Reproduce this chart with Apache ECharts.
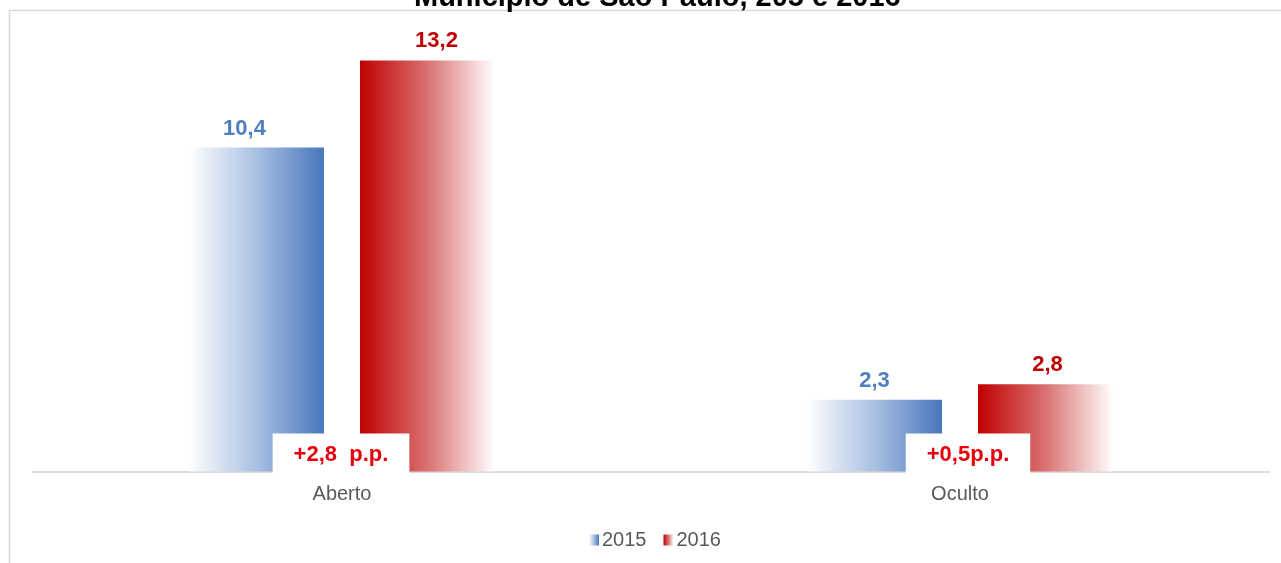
<!DOCTYPE html>
<html>
<head>
<meta charset="utf-8">
<script src="https://cdn.jsdelivr.net/npm/echarts@6/dist/echarts.min.js"></script>
<style>
  html, body { margin: 0; padding: 0; background: #ffffff; }
  #chart { width: 1281px; height: 563px; }
</style>
</head>
<body>
<div id="chart"></div>
<script>
// Desemprego aberto e oculto (%), Município de São Paulo
const categories = ['Aberto', 'Oculto'];
const seriesNames = ['2015', '2016'];
const values2015 = [10.4, 2.3];
const values2016 = [13.2, 2.8];
const diffLabels = ['+2,8  p.p.', '+0,5p.p.'];
const titleText = 'Município de São Paulo, 205 e 2016';

// horizontal nudges for labels (px)
const labelShift2015 = [-12, 0];
const labelShift2016 = [9, 2];
const noteShift = [-1, 8];

const FONT = '"Liberation Sans", Arial, Helvetica, sans-serif';
const fmt = v => v.toFixed(1).replace('.', ',');

const blueFill = new echarts.graphic.LinearGradient(0, 0, 1, 0, [
  { offset: 0, color: 'rgba(255,255,255,1)' },
  { offset: 0.5, color: '#a9c0e2' },
  { offset: 1, color: '#4876bd' }
]);
const redFill = new echarts.graphic.LinearGradient(0, 0, 1, 0, [
  { offset: 0, color: '#c00000' },
  { offset: 0.5, color: '#da7272' },
  { offset: 1, color: 'rgba(255,255,255,1)' }
]);

const chart = echarts.init(document.getElementById('chart'), null, { renderer: 'canvas' });

function barData(values, shifts) {
  return values.map((v, i) => ({ value: v, label: { offset: [shifts[i], 0] } }));
}

const valueLabel = color => ({
  show: true,
  position: 'top',
  distance: 8,
  formatter: p => fmt(p.value),
  fontFamily: FONT,
  fontSize: 22,
  fontWeight: 'bold',
  color: color
});

const option = {
  backgroundColor: '#ffffff',
  animation: false,
  title: {
    text: titleText,
    left: 409,
    top: -22,
    textStyle: { fontFamily: FONT, fontSize: 29, fontWeight: 'bold', color: '#000000' }
  },
  graphic: [{
    type: 'rect',
    shape: { x: 9.5, y: 10.5, width: 1400, height: 700 },
    style: { fill: null, stroke: '#d9d9d9', lineWidth: 1.5 },
    silent: true,
    z: -10
  }],
  legend: {
    data: seriesNames,
    bottom: 8,
    left: 584,
    icon: 'rect',
    itemWidth: 10,
    itemHeight: 11,
    itemGap: 17,
    textStyle: { fontFamily: FONT, fontSize: 20, color: '#595959', padding: [0, 0, 0, -2] }
  },
  grid: { left: 33, right: 12, top: 35.5, bottom: 91.5, containLabel: false },
  xAxis: {
    type: 'category',
    data: categories,
    axisLine: { show: true, lineStyle: { color: '#dadada', width: 2 } },
    axisTick: { show: false },
    axisLabel: { margin: 13, fontFamily: FONT, fontSize: 20, color: '#595959' }
  },
  yAxis: {
    type: 'value',
    min: 0,
    max: 14,
    show: false,
    splitLine: { show: false }
  },
  series: [
    {
      name: seriesNames[0],
      type: 'bar',
      barWidth: 135,
      barGap: '26.7%',
      itemStyle: { color: blueFill },
      data: barData(values2015, labelShift2015),
      label: valueLabel('#4f7fc0')
    },
    {
      name: seriesNames[1],
      type: 'bar',
      barWidth: 135,
      itemStyle: { color: redFill },
      data: barData(values2016, labelShift2016),
      label: valueLabel('#c00000')
    },
    {
      // white note boxes with the change in percentage points
      name: 'variação',
      type: 'custom',
      z: 5,
      silent: true,
      data: categories.map((c, i) => [i, values2016[i] - values2015[i]]),
      renderItem: function (params, api) {
        const i = api.value(0);
        const base = api.coord([i, 0]);
        return {
          type: 'text',
          x: base[0] + noteShift[i],
          y: base[1] + 2,
          style: {
            text: diffLabels[i],
            fill: '#e8000b',
            font: 'bold 22px ' + FONT,
            align: 'center',
            verticalAlign: 'bottom',
            backgroundColor: '#ffffff',
            padding: [10, 21, 8, 21]
          }
        };
      }
    }
  ]
};

chart.setOption(option);
</script>
</body>
</html>
